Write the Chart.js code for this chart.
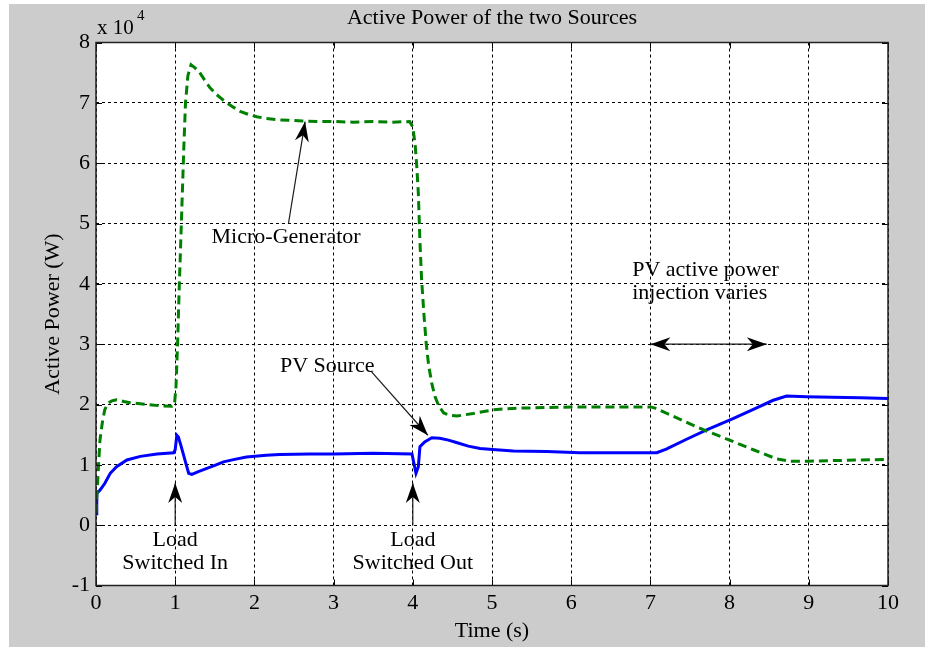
<!DOCTYPE html>
<html>
<head>
<meta charset="utf-8">
<title>Active Power of the two Sources</title>
<script src="https://cdn.jsdelivr.net/npm/chart.js@4.4.1/dist/chart.umd.min.js"></script>
<style>
  html, body { margin: 0; padding: 0; background: #ffffff; }
  #wrap { position: absolute; left: 9px; top: 4px; width: 916px; height: 643px; }
  canvas { display: block; }
</style>
</head>
<body>
<div id="wrap"><canvas id="c" width="916" height="643"></canvas></div>
<script>
// Axis ticks
const timeTicks = [0, 1, 2, 3, 4, 5, 6, 7, 8, 9, 10];      // s
const powerTicks = [-1, 0, 1, 2, 3, 4, 5, 6, 7, 8];       // x 10^4 W

// Micro-generator active power (x 10^4 W)
const genTime = [0, 0.02, 0.05, 0.08, 0.11, 0.15, 0.2, 0.26, 0.35, 0.43, 0.64, 0.8, 0.96, 0.99,
  1.01, 1.03, 1.05, 1.07, 1.09, 1.11, 1.13, 1.16, 1.2, 1.25, 1.31, 1.37, 1.44, 1.52, 1.61, 1.72,
  1.82, 1.92, 2.03, 2.15, 2.28, 2.45, 2.61, 2.8, 3.0, 3.25, 3.5, 3.75, 3.96,
  4.0, 4.03, 4.05, 4.07, 4.09, 4.11, 4.14, 4.17, 4.2, 4.24, 4.28, 4.33, 4.39, 4.47, 4.56, 4.66,
  4.76, 4.88, 5.01, 5.18, 5.35, 5.69, 6.11, 6.5, 7.0, 7.06, 7.3, 7.5, 7.71, 8.0, 8.3, 8.59,
  8.76, 8.99, 9.3, 9.65, 10];
const genPower = [0.2, 0.7, 1.41, 1.7, 1.91, 2.02, 2.06, 2.08, 2.05, 2.03, 2.0, 1.98, 1.97, 1.99,
  2.3, 3.0, 3.9, 4.7, 5.5, 6.3, 7.0, 7.45, 7.63, 7.58, 7.5, 7.38, 7.25, 7.14, 7.04, 6.94,
  6.86, 6.81, 6.77, 6.74, 6.72, 6.71, 6.70, 6.69, 6.69, 6.68, 6.69, 6.68, 6.69,
  6.6, 6.3, 5.95, 5.5, 4.7, 4.1, 3.5, 3.0, 2.65, 2.35, 2.13, 1.97, 1.86, 1.82, 1.81, 1.83,
  1.85, 1.88, 1.91, 1.93, 1.94, 1.95, 1.96, 1.96, 1.96, 1.94, 1.8, 1.68, 1.56, 1.41, 1.25, 1.1,
  1.06, 1.06, 1.07, 1.08, 1.09];

// PV source active power (x 10^4 W)
const pvTime = [0, 0.01, 0.05, 0.11, 0.18, 0.26, 0.39, 0.56, 0.77, 0.98,
  1.0, 1.02, 1.04, 1.07, 1.1, 1.14, 1.17, 1.21, 1.3, 1.4, 1.5, 1.61, 1.75, 1.9, 2.15, 2.32,
  2.7, 3.0, 3.5, 3.99, 4.01, 4.04, 4.07, 4.09, 4.15, 4.24, 4.34, 4.45, 4.55, 4.7, 4.85, 5.05,
  5.27, 5.69, 6.11, 6.6, 7.08, 7.2, 7.45, 7.71, 8.05, 8.3, 8.55, 8.72, 8.97, 9.3, 9.65, 10];
const pvPower = [0.19, 0.53, 0.58, 0.69, 0.86, 0.97, 1.08, 1.14, 1.18, 1.2,
  1.25, 1.49, 1.46, 1.33, 1.19, 1.0, 0.86, 0.84, 0.89, 0.94, 0.99, 1.05, 1.09, 1.13, 1.16, 1.17,
  1.18, 1.18, 1.19, 1.18, 1.05, 0.86, 0.97, 1.3, 1.38, 1.45, 1.44, 1.41, 1.37, 1.31, 1.27, 1.25,
  1.23, 1.22, 1.2, 1.2, 1.2, 1.26, 1.42, 1.58, 1.77, 1.92, 2.07, 2.14, 2.13, 2.12, 2.11, 2.1];

const SERIF = '"Liberation Serif", "Times New Roman", serif';
const toPoints = (xs, ys) => xs.map((x, i) => ({ x: x, y: ys[i] }));

// Text labels and arrows placed in data coordinates
const labels = [
  { text: 'Micro-Generator', t: 2.40, v: 4.78, align: 'center' },
  { text: 'PV Source', t: 2.92, v: 2.64, align: 'center' },
  { text: 'Load', t: 1.0, v: -0.25, align: 'center' },
  { text: 'Switched In', t: 1.0, v: -0.63, align: 'center' },
  { text: 'Load', t: 4.0, v: -0.25, align: 'center' },
  { text: 'Switched Out', t: 4.0, v: -0.63, align: 'center' },
  { text: 'PV active power', t: 6.77, v: 4.23, align: 'left' },
  { text: 'injection varies', t: 6.77, v: 3.85, align: 'left' }
];
const arrows = [
  { from: [2.43, 5.0], to: [2.64, 6.69], both: false },
  { from: [3.48, 2.54], to: [4.19, 1.49], both: false },
  { from: [1.0, 0.0], to: [1.0, 0.70], both: false },
  { from: [4.0, 0.0], to: [4.0, 0.70], both: false },
  { from: [7.0, 3.0], to: [8.47, 3.0], both: true }
];

function head(ctx, x0, y0, x1, y1) {
  const len = 20, half = 7, notch = 14;
  const a = Math.atan2(y1 - y0, x1 - x0);
  const c = Math.cos(a), s = Math.sin(a);
  ctx.beginPath();
  ctx.moveTo(x1, y1);
  ctx.lineTo(x1 - len * c - half * s, y1 - len * s + half * c);
  ctx.lineTo(x1 - notch * c, y1 - notch * s);
  ctx.lineTo(x1 - len * c + half * s, y1 - len * s - half * c);
  ctx.closePath();
  ctx.fill();
}

const figurePlugin = {
  id: 'figure',
  beforeDraw(chart) {
    const { ctx, chartArea: a } = chart;
    ctx.save();
    ctx.fillStyle = '#cccccc';
    ctx.fillRect(0, 0, chart.width, chart.height);
    ctx.fillStyle = '#ffffff';
    ctx.fillRect(a.left, a.top, a.right - a.left, a.bottom - a.top);
    ctx.restore();
  },
  afterDraw(chart) {
    const { ctx, chartArea: a } = chart;
    const xs = chart.scales.x, ys = chart.scales.y;
    ctx.save();

    // Axes box with inward ticks
    ctx.strokeStyle = '#000000';
    ctx.lineWidth = 1;
    ctx.beginPath();
    timeTicks.forEach(t => {
      const p = Math.round(xs.getPixelForValue(t)) + 0.5;
      ctx.moveTo(p, a.bottom); ctx.lineTo(p, a.bottom - 6);
      ctx.moveTo(p, a.top); ctx.lineTo(p, a.top + 6);
    });
    powerTicks.forEach(v => {
      const p = Math.round(ys.getPixelForValue(v)) + 0.5;
      ctx.moveTo(a.left, p); ctx.lineTo(a.left + 6, p);
      ctx.moveTo(a.right, p); ctx.lineTo(a.right - 6, p);
    });
    ctx.stroke();
    ctx.strokeStyle = '#202020';
    ctx.lineWidth = 1.5;
    ctx.strokeRect(a.left, a.top, a.right - a.left, a.bottom - a.top);

    // Titles
    ctx.fillStyle = '#000000';
    ctx.textAlign = 'center';
    ctx.textBaseline = 'middle';
    ctx.font = '22px ' + SERIF;
    const cx = (a.left + a.right) / 2, cy = (a.top + a.bottom) / 2;
    ctx.fillText('Active Power of the two Sources', cx, 14);
    ctx.fillText('Time (s)', cx, 627);
    ctx.save();
    ctx.translate(44, cy);
    ctx.rotate(-Math.PI / 2);
    ctx.fillText('Active Power (W)', 0, 0);
    ctx.restore();

    // Exponent marker
    ctx.textAlign = 'left';
    ctx.font = '21px ' + SERIF;
    ctx.fillText('x 10', a.left + 1, 24);
    ctx.font = '15px ' + SERIF;
    ctx.fillText('4', a.left + 41, 12);

    // Annotation arrows
    ctx.strokeStyle = '#1a1a1a';
    ctx.fillStyle = '#000000';
    ctx.lineWidth = 1.2;
    arrows.forEach(ar => {
      const x0 = xs.getPixelForValue(ar.from[0]), y0 = ys.getPixelForValue(ar.from[1]);
      const x1 = xs.getPixelForValue(ar.to[0]), y1 = ys.getPixelForValue(ar.to[1]);
      ctx.beginPath();
      ctx.moveTo(x0, y0); ctx.lineTo(x1, y1);
      ctx.stroke();
      head(ctx, x0, y0, x1, y1);
      if (ar.both) head(ctx, x1, y1, x0, y0);
    });

    // Annotation text
    ctx.font = '22px ' + SERIF;
    ctx.textBaseline = 'middle';
    labels.forEach(l => {
      ctx.textAlign = l.align;
      ctx.fillText(l.text, xs.getPixelForValue(l.t), ys.getPixelForValue(l.v));
    });
    ctx.restore();
  }
};

new Chart(document.getElementById('c'), {
  type: 'line',
  data: {
    datasets: [
      {
        label: 'Micro-Generator',
        data: toPoints(genTime, genPower),
        borderColor: '#008000',
        borderWidth: 3,
        borderDash: [9, 5],
        pointRadius: 0,
        tension: 0,
        fill: false
      },
      {
        label: 'PV Source',
        data: toPoints(pvTime, pvPower),
        borderColor: '#0000ff',
        borderWidth: 3,
        pointRadius: 0,
        tension: 0,
        fill: false
      }
    ]
  },
  options: {
    responsive: false,
    animation: false,
    devicePixelRatio: 1,
    layout: { padding: { left: 0, top: 38.5, right: 37, bottom: 0 } },
    plugins: { legend: { display: false }, tooltip: { enabled: false }, title: { display: false } },
    scales: {
      x: {
        type: 'linear', min: 0, max: 10,
        afterBuildTicks(s) { s.ticks = timeTicks.map(v => ({ value: v })); },
        afterFit(s) { s.height = 61.5; },
        ticks: { color: '#000000', font: { family: SERIF, size: 22 }, padding: 5, maxRotation: 0, autoSkip: false },
        grid: { color: '#000000', lineWidth: 1, drawTicks: false, borderDash: [3, 3] },
        border: { display: false, dash: [3, 3] }
      },
      y: {
        type: 'linear', min: -1, max: 8,
        afterBuildTicks(s) { s.ticks = powerTicks.map(v => ({ value: v })); },
        afterFit(s) { s.width = 87; },
        ticks: { color: '#000000', font: { family: SERIF, size: 22 }, padding: 6, autoSkip: false },
        grid: { color: '#000000', lineWidth: 1, drawTicks: false, borderDash: [3, 3] },
        border: { display: false, dash: [3, 3] }
      }
    }
  },
  plugins: [figurePlugin]
});
</script>
</body>
</html>
